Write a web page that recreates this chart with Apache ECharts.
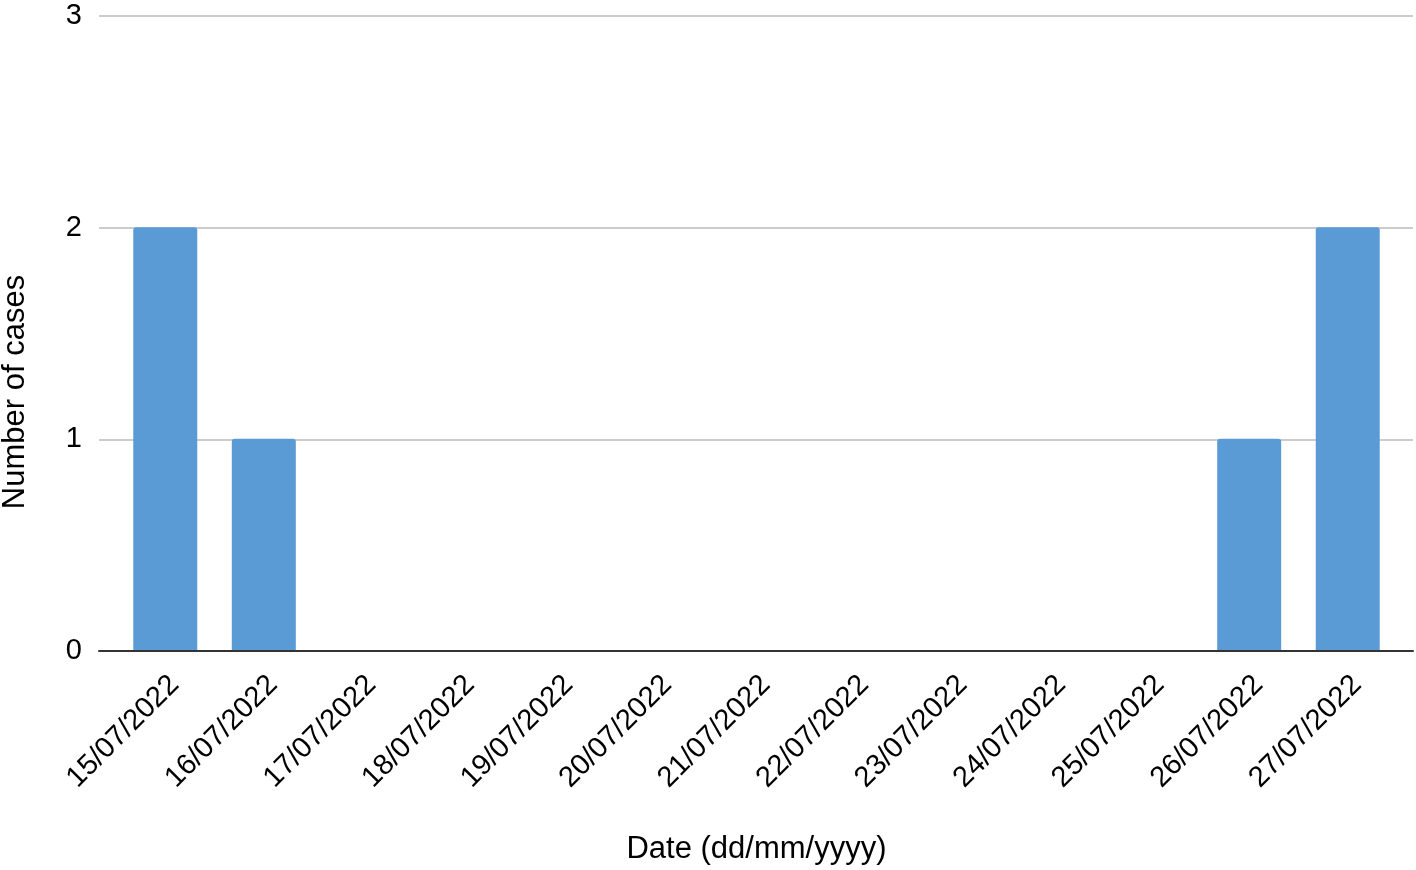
<!DOCTYPE html>
<html>
<head>
<meta charset="utf-8">
<script src="https://cdn.jsdelivr.net/npm/echarts@6/dist/echarts.min.js"></script>
<style>
  html, body { margin: 0; padding: 0; background: #fff; }
  #main { width: 1416px; height: 870px; }
</style>
</head>
<body>
<div id="main"></div>
<script>
// data
let dates = ['15/07/2022','16/07/2022','17/07/2022','18/07/2022','19/07/2022','20/07/2022','21/07/2022',
             '22/07/2022','23/07/2022','24/07/2022','25/07/2022','26/07/2022','27/07/2022'];
let cases = [2, 1, 0, 0, 0, 0, 0, 0, 0, 0, 0, 1, 2];
let yTicks = [0, 1, 2, 3];

let font = '"Liberation Sans", Arial, Helvetica, sans-serif';
let chart = echarts.init(document.getElementById('main'));

let option = {
  backgroundColor: '#fff',
  textStyle: { fontFamily: font },
  animation: false,
  grid: [
    { left: 99, right: 3, top: 16, bottom: 219 },   // gridlines + y labels
    { left: 116, right: 19, top: 16, bottom: 219 }  // bars
  ],
  graphic: [{
    type: 'text',
    x: 15, y: 392,
    rotation: Math.PI / 2,
    style: {
      text: 'Number of cases',
      font: '31px ' + font,
      fill: '#000',
      textAlign: 'center',
      textVerticalAlign: 'middle'
    }
  }],
  xAxis: [
    {
      gridIndex: 0,
      type: 'category',
      data: [''],
      axisLine: { show: true, lineStyle: { color: '#333', width: 2 } },
      axisTick: { show: false },
      axisLabel: { show: false }
    },
    {
      gridIndex: 1,
      type: 'category',
      data: dates,
      axisLine: { show: false },
      axisTick: { show: false },
      axisLabel: {
        interval: 0,
        rotate: 45,
        fontSize: 29,
        color: '#000',
        margin: 21,
        verticalAlign: 'top',
        lineHeight: 26
      },
      name: 'Date (dd/mm/yyyy)',
      nameLocation: 'middle',
      nameGap: 184,
      nameTextStyle: { fontSize: 31, color: '#000' }
    }
  ],
  yAxis: [
    {
      gridIndex: 0,
      type: 'value',
      min: yTicks[0],
      max: yTicks[yTicks.length - 1],
      interval: 1,
      axisLine: { show: false },
      axisTick: { show: false },
      axisLabel: { fontSize: 29, color: '#000', margin: 17 },
      splitLine: { lineStyle: { color: '#cccccc', width: 2 } }
    },
    {
      gridIndex: 1,
      type: 'value',
      min: yTicks[0],
      max: yTicks[yTicks.length - 1],
      interval: 1,
      show: false,
      splitLine: { show: false }
    }
  ],
  series: [{
    name: 'Number of cases',
    type: 'bar',
    xAxisIndex: 1,
    yAxisIndex: 1,
    data: cases,
    barWidth: 64,
    itemStyle: { color: '#5a9ad5', borderRadius: [3, 3, 0, 0] }
  }]
};

chart.setOption(option);
</script>
</body>
</html>
